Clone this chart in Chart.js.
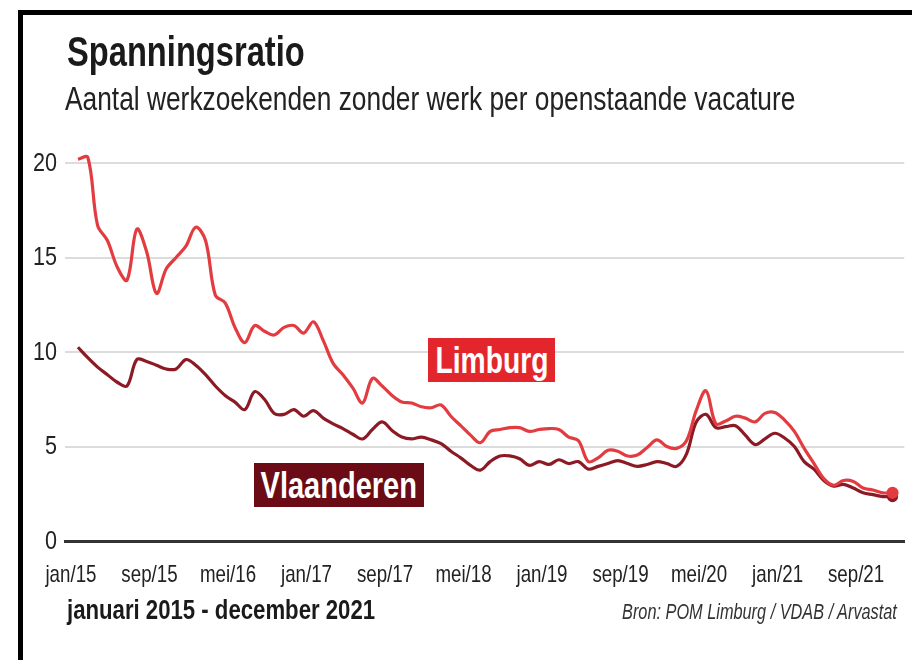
<!DOCTYPE html>
<html>
<head>
<meta charset="utf-8">
<script src="https://cdn.jsdelivr.net/npm/chart.js@4.4.1/dist/chart.umd.min.js"></script>
<style>
  html, body { margin:0; padding:0; background:#fff; overflow:hidden; width:912px; height:660px; }
  #wrap { position:relative; width:912px; height:660px; overflow:hidden; }
  #frame { position:absolute; left:18px; top:10px; width:1000px; height:800px; border:5px solid #000; box-sizing:border-box; pointer-events:none; z-index:5; }
  canvas { position:absolute; left:0; top:0; }
  .t { position:absolute; white-space:nowrap; line-height:1; transform-origin:0 0; font-family:"Liberation Sans",Arial,sans-serif; z-index:4; }
  #title { left:67px; top:31px; font-size:42px; font-weight:bold; color:#1a1a1a; }
  #subtitle { left:65px; top:82px; font-size:33px; color:#222; }
  #period { left:67px; top:596px; font-size:28px; font-weight:bold; color:#1a1a1a; }
  #source { left:622px; top:601px; font-size:22px; font-style:italic; color:#333; }
  .box { position:absolute; z-index:4; display:flex; align-items:center; justify-content:center; overflow:visible; }
  .box span { display:inline-block; white-space:nowrap; line-height:1; color:#fff; font-weight:bold; font-size:37px; font-family:"Liberation Sans",Arial,sans-serif; transform-origin:50% 50%; }
  #limb { left:428px; top:338px; width:127px; height:44px; background:#e3262c; }
  #vlaa { left:254px; top:463px; width:170px; height:44px; background:#6b0b15; }
</style>
</head>
<body>
<div id="wrap">
  <canvas id="c" width="912" height="660"></canvas>
  <div id="frame"></div>
  <div class="t" id="title">Spanningsratio</div>
  <div class="t" id="subtitle">Aantal werkzoekenden zonder werk per openstaande vacature</div>
  <div class="t" id="period">januari 2015 - december 2021</div>
  <div class="t" id="source">Bron: POM Limburg / VDAB / Arvastat</div>
  <div class="box" id="limb"><span>Limburg</span></div>
  <div class="box" id="vlaa"><span>Vlaanderen</span></div>
</div>
<script>
// ---- DATA ----
const monthNames = ['jan','feb','mrt','apr','mei','jun','jul','aug','sep','okt','nov','dec'];
const years = ['15','16','17','18','19','20','21'];
const months = [];
years.forEach(y => monthNames.forEach(m => months.push(m + '/' + y)));

const tickMonths = ['jan/15','sep/15','mei/16','jan/17','sep/17','mei/18','jan/19','sep/19','mei/20','jan/21','sep/21'];
const yTicks = [0, 5, 10, 15, 20];

const limburg = [
  20.2, 20.3, 16.7, 15.9, 14.5, 13.8, 16.5, 15.3, 13.1, 14.4, 15.0, 15.6,
  16.6, 15.9, 13.0, 12.6, 11.3, 10.5, 11.4, 11.1, 10.9, 11.3, 11.4, 11.0,
  11.6, 10.6, 9.4, 8.8, 8.1, 7.3, 8.6, 8.2, 7.7, 7.35, 7.3, 7.1,
  7.05, 7.2, 6.6, 6.1, 5.6, 5.2, 5.8, 5.9, 6.0, 6.0, 5.8, 5.9,
  5.95, 5.9, 5.5, 5.3, 4.2, 4.4, 4.8, 4.75, 4.5, 4.55, 4.95, 5.35,
  5.0, 4.9, 5.3, 6.9, 7.95, 6.2, 6.35, 6.6, 6.5, 6.3, 6.75, 6.8,
  6.4, 5.8, 4.9, 4.1, 3.3, 2.95, 3.2, 3.15, 2.8, 2.7, 2.55, 2.55
];
const vlaanderen = [
  10.25, 9.7, 9.2, 8.8, 8.4, 8.2, 9.6, 9.5, 9.3, 9.1, 9.1, 9.6,
  9.3, 8.8, 8.2, 7.7, 7.35, 6.95, 7.9, 7.5, 6.75, 6.7, 6.95, 6.6,
  6.9, 6.5, 6.2, 5.95, 5.65, 5.4, 5.9, 6.3, 5.85, 5.5, 5.4, 5.5,
  5.35, 5.15, 4.75, 4.4, 4.0, 3.75, 4.2, 4.5, 4.5, 4.35, 4.0, 4.2,
  4.05, 4.3, 4.1, 4.2, 3.8, 3.95, 4.1, 4.25, 4.1, 3.95, 4.05, 4.2,
  4.1, 3.95, 4.6, 6.3, 6.7, 6.0, 6.05, 6.1, 5.6, 5.1, 5.4, 5.7,
  5.45, 5.0, 4.2, 3.8, 3.2, 2.9, 3.0, 2.8, 2.55, 2.45, 2.35, 2.35
];

const FONT = '"Liberation Sans", Arial, sans-serif';
const toPts = arr => arr.map((v, i) => ({ x: i, y: v }));
const lastIdx = months.length - 1;
const tickIdx = tickMonths.map(t => months.indexOf(t));

// Draws the axis tick labels in a condensed (horizontally compressed) style
const condensedTicks = {
  id: 'condensedTicks',
  afterDraw(chart) {
    const { ctx, scales: { x, y } } = chart;
    ctx.save();
    ctx.fillStyle = '#222';
    // x labels
    ctx.font = '24px ' + FONT;
    ctx.textAlign = 'center';
    ctx.textBaseline = 'alphabetic';
    const sx = 51 / ctx.measureText('jan/15').width;
    tickIdx.forEach((v, k) => {
      ctx.save();
      ctx.translate(x.getPixelForValue(v) - 7, 582);
      ctx.scale(sx, 1);
      ctx.fillText(tickMonths[k], 0, 0);
      ctx.restore();
    });
    // y labels
    ctx.font = '25px ' + FONT;
    ctx.textAlign = 'right';
    ctx.textBaseline = 'middle';
    const sy = 24 / ctx.measureText('20').width;
    yTicks.forEach(v => {
      ctx.save();
      ctx.translate(57, y.getPixelForValue(v) + 1);
      ctx.scale(sy, 1);
      ctx.fillText(String(v), 0, 0);
      ctx.restore();
    });
    ctx.restore();
  }
};

new Chart(document.getElementById('c'), {
  type: 'line',
  data: {
    datasets: [
      { label: 'Limburg', data: toPts(limburg), borderColor: '#e33c40', backgroundColor: '#e33c40',
        borderWidth: 3.2, tension: 0.35, clip: false,
        pointRadius: c => c.dataIndex === lastIdx ? 4.5 : 0, pointHoverRadius: 0 },
      { label: 'Vlaanderen', data: toPts(vlaanderen), borderColor: '#8c1a25', backgroundColor: '#8c1a25',
        borderWidth: 3.2, tension: 0.35, clip: false,
        pointRadius: c => c.dataIndex === lastIdx ? 4 : 0, pointHoverRadius: 0 }
    ]
  },
  options: {
    responsive: false,
    animation: false,
    devicePixelRatio: 1,
    layout: { padding: { top: 163, left: 0, right: 0, bottom: 0 } },
    plugins: { legend: { display: false }, tooltip: { enabled: false } },
    scales: {
      x: {
        type: 'linear', min: -1.32, max: 84.2,
        grid: { display: false, drawTicks: false },
        border: { display: true, color: '#333', width: 3 },
        afterBuildTicks: s => { s.ticks = tickIdx.map(v => ({ value: v })); },
        afterFit: s => { s.height = 119; },
        ticks: { display: false, callback: v => months[v] }
      },
      y: {
        min: 0, max: 20,
        afterBuildTicks: s => { s.ticks = yTicks.map(v => ({ value: v })); },
        afterFit: s => { s.width = 65; },
        grid: { drawTicks: false, color: c => c.tick && c.tick.value === 0 ? '#333' : '#dcdcdc', lineWidth: c => c.tick && c.tick.value === 0 ? 3 : 2 },
        border: { display: false },
        ticks: { display: false }
      }
    }
  },
  plugins: [condensedTicks]
});

function fitLeft(id, w) {
  const el = document.getElementById(id);
  el.style.transform = 'scaleX(' + (w / el.offsetWidth) + ')';
}
function fitCenter(id, w) {
  const el = document.querySelector('#' + id + ' span');
  el.style.transform = 'scaleX(' + (w / el.offsetWidth) + ')';
}
fitLeft('title', 238);
fitLeft('subtitle', 730);
fitLeft('period', 308);
fitLeft('source', 275);
fitCenter('limb', 113);
fitCenter('vlaa', 156);
</script>
</body>
</html>
